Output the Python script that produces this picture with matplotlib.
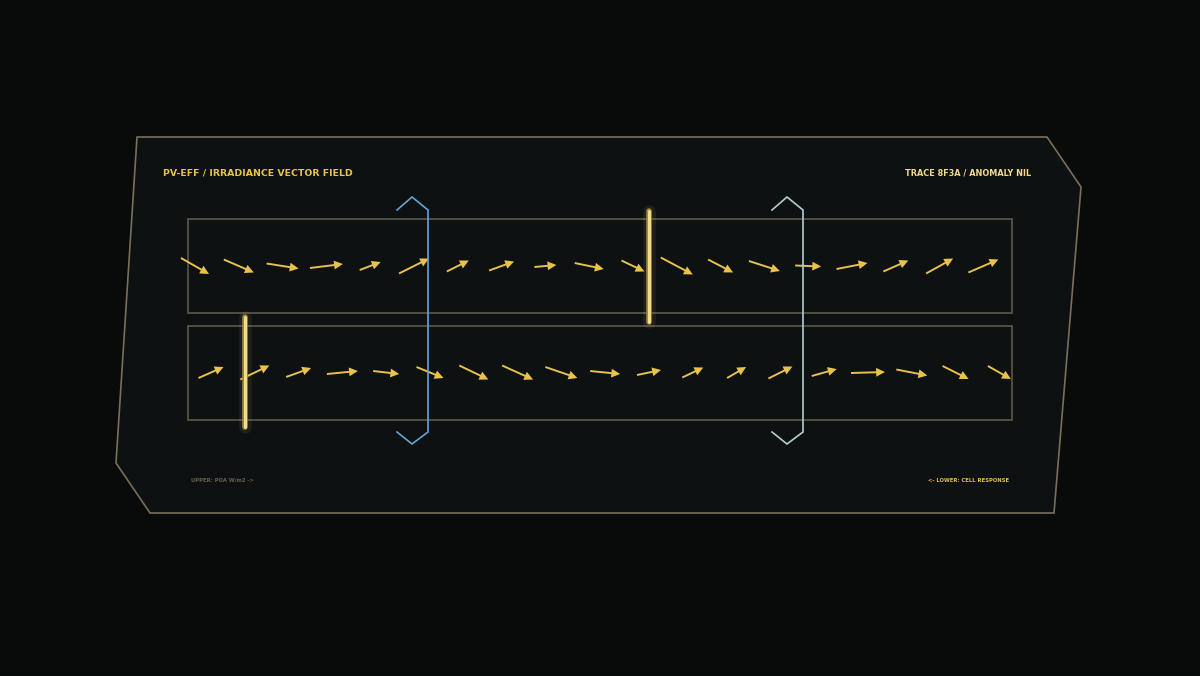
import numpy as np
import matplotlib
matplotlib.use("Agg")
import matplotlib.pyplot as plt
from matplotlib.patches import Polygon, Rectangle

# vector components per column (px, y pointing down)
upper_dx = [28, 30, 32, 33, 21, 30, 22, 25, 22, 29, 23, 32, 25, 31, 26, 31, 25, 27, 30]
upper_dy = [16, 13, 5, -4, -8, -15, -11, -9, -2, 6, 11, 17, 13, 10, 1, -6, -11, -15, -13]
lower_dx = [25, 29, 25, 31, 26, 27, 29, 31, 32, 30, 24, 21, 19, 24, 25, 34, 31, 26, 23]
lower_dy = [-11, -14, -9, -3, 3, 11, 14, 14, 11, 3, -5, -10, -11, -12, -7, -1, 6, 13, 13]

title_left = "PV-EFF / IRRADIANCE VECTOR FIELD"
title_right = "TRACE 8F3A / ANOMALY NIL"
note_left = "UPPER: POA W/m2 ->"
note_right = "<- LOWER: CELL RESPONSE"

BG = "#090b0b"
PANEL = "#0d1111"
GOLD = "#e8c24a"

W, H = 1200, 676
fig = plt.figure(figsize=(W / 100, H / 100), dpi=100, facecolor=BG)
ax = fig.add_axes([0, 0, 1, 1])
ax.set_xlim(0, W)
ax.set_ylim(H, 0)
ax.set_facecolor(BG)
ax.axis("off")

# outer panel
panel = Polygon([(137, 137), (1047, 137), (1081, 187), (1054, 513),
                 (150, 513), (116, 463)], closed=True,
                facecolor=PANEL, edgecolor="#7a6e5a", lw=1.2, zorder=1)
ax.add_patch(panel)

# the two bands
band_top = [219, 326]
band_h = 94
for y0 in band_top:
    ax.add_patch(Rectangle((188, y0), 824, band_h, facecolor="none",
                           edgecolor="#5e574b", lw=1.2, zorder=2))

step = 43.8
rows = [
    (upper_dx, upper_dy, 195, 266),
    (lower_dx, lower_dy, 211, 372.5),
]
for dx, dy, x0, yc in rows:
    cols = np.arange(len(dx))
    xs = x0 + cols * step
    ys = np.full(len(dx), yc)
    ax.quiver(xs, ys, dx, dy, angles="xy", scale_units="xy", scale=1,
              pivot="middle", color=GOLD, width=0.0016, headwidth=4.6,
              headlength=4.6, headaxislength=4.6, zorder=4)

# glowing markers
for x, y0, y1 in [(649, 211, 322), (245, 317, 427)]:
    ax.plot([x, x], [y0, y1], color="#f5d76e", lw=9, alpha=0.08,
            solid_capstyle="round", zorder=5)
    ax.plot([x, x], [y0, y1], color="#9c8640", lw=4.0,
            solid_capstyle="round", zorder=5)
    ax.plot([x, x], [y0, y1], color="#f3dc85", lw=2.2,
            solid_capstyle="round", zorder=6)

# brackets
for x, c in [(428, "#66a3d8"), (803, "#b5cdd4")]:
    bx = [x - 31, x - 16, x, x, x - 16, x - 31]
    by = [210, 197, 210, 432, 444, 432]
    ax.plot(bx, by, color=c, lw=1.2, zorder=7, solid_joinstyle="miter")

ax.text(163, 173, title_left, color=GOLD, fontsize=6.75, fontweight="bold",
        ha="left", va="center", family="DejaVu Sans", zorder=8)
ax.text(1031, 173, title_right, color="#f0d88c", fontsize=5.9, fontweight="bold",
        ha="right", va="center", family="DejaVu Sans", zorder=8)
ax.text(191, 480, note_left, color="#6a6050", fontsize=3.8, fontweight="bold",
        ha="left", va="center", family="DejaVu Sans", zorder=8)
ax.text(1009, 480, note_right, color="#e2c04e", fontsize=3.8, fontweight="bold",
        ha="right", va="center", family="DejaVu Sans", zorder=8)

fig.savefig("out.png", dpi=100, facecolor=BG)
